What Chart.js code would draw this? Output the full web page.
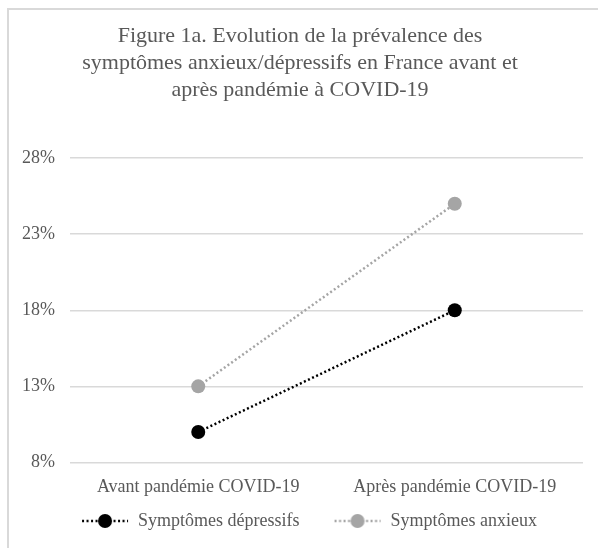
<!DOCTYPE html>
<html>
<head>
<meta charset="utf-8">
<script src="https://cdn.jsdelivr.net/npm/chart.js@4/dist/chart.umd.min.js"></script>
<style>
  html, body { margin: 0; padding: 0; background: #fff; overflow: hidden; }
  #frame {
    position: absolute; left: 7px; top: 8px;
    width: 600px; height: 560px;
    border-left: 2px solid #d9d9d9; border-top: 2px solid #d9d9d9;
  }
  #wrap { position: absolute; left: 0; top: 0; width: 589px; height: 538px; }
</style>
</head>
<body>
<div id="frame"><div id="wrap"><canvas id="chartCanvas"></canvas></div></div>
<script>
// categories and values (percent)
const categories = ['Avant pandémie COVID-19', 'Après pandémie COVID-19'];
const depressifs = [10, 18];
const anxieux = [13, 25];
const seriesNames = ['Symptômes dépressifs', 'Symptômes anxieux'];
const titleLines = [
    'Figure 1a. Evolution de la prévalence des',
    'symptômes anxieux/dépressifs en France avant et',
    'après pandémie à COVID-19'
];

const serif = "'Liberation Serif', 'Times New Roman', serif";
const textColor = '#595959';
const markerGap = 18; // empty space left of each legend marker

// small canvas used as legend marker: dotted line with a dot in the middle
function legendMarker(color) {
    const c = document.createElement('canvas');
    c.width = 48 + markerGap; c.height = 16;
    const g = c.getContext('2d');
    g.strokeStyle = color;
    g.lineWidth = 2.5;
    g.setLineDash([2, 2.5]);
    g.beginPath();
    g.moveTo(markerGap + 1, 8); g.lineTo(markerGap + 47, 8);
    g.stroke();
    g.fillStyle = color;
    g.beginPath();
    g.arc(markerGap + 24, 8, 7, 0, Math.PI * 2);
    g.fill();
    return c;
}

function renderChart() {
    const ctx = document.getElementById('chartCanvas').getContext('2d');
    const config = {
        type: 'line',
        data: {
            labels: categories,
            datasets: [
                {
                    label: seriesNames[0],
                    data: depressifs,
                    borderColor: '#000000',
                    backgroundColor: '#000000',
                    borderWidth: 2.5,
                    borderDash: [2, 2.5],
                    pointRadius: 7,
                    pointHoverRadius: 7,
                    pointBorderWidth: 0,
                    fill: false,
                },
                {
                    label: seriesNames[1],
                    data: anxieux,
                    borderColor: '#a5a5a5',
                    backgroundColor: '#a5a5a5',
                    borderWidth: 2.5,
                    borderDash: [2, 2.5],
                    pointRadius: 7,
                    pointHoverRadius: 7,
                    pointBorderWidth: 0,
                    fill: false,
                },
            ],
        },
        options: {
            responsive: true,
            maintainAspectRatio: false,
            animation: false,
            layout: { padding: { left: 8, right: 15, top: 7, bottom: 8 } },
            plugins: {
                title: {
                    display: true,
                    text: titleLines,
                    color: textColor,
                    font: { family: serif, size: 22, weight: 'normal', lineHeight: 1.23 },
                    padding: { top: 6, bottom: 54 },
                },
                legend: {
                    position: 'bottom',
                    labels: {
                        color: textColor,
                        font: { family: serif, size: 18 },
                        usePointStyle: true,
                        pointStyleWidth: 48 + markerGap,
                        boxHeight: 16,
                        padding: 16,
                        generateLabels: (chart) => chart.data.datasets.map((ds, i) => ({
                            text: ds.label,
                            pointStyle: legendMarker(ds.borderColor),
                            fontColor: textColor,
                            lineWidth: 0,
                            strokeStyle: 'transparent',
                            datasetIndex: i,
                        })),
                    },
                },
                tooltip: { enabled: false },
            },
            scales: {
                x: {
                    offset: true,
                    grid: { display: false, drawTicks: false },
                    border: { display: false },
                    ticks: { color: textColor, font: { family: serif, size: 18 }, padding: 14, maxRotation: 0 },
                    afterFit: (scale) => { scale.height -= 16; },
                },
                y: {
                    min: 8,
                    max: 28,
                    grid: { color: '#d9d9d9', lineWidth: 1.5, drawTicks: false },
                    border: { display: false },
                    ticks: {
                        stepSize: 5,
                        color: textColor,
                        font: { family: serif, size: 18 },
                        padding: 15,
                        callback: (v) => v + '%',
                    },
                    afterFit: (scale) => { scale.width -= 10; },
                },
            },
        },
    };
    new Chart(ctx, config);
}

document.addEventListener('DOMContentLoaded', renderChart);
</script>
</body>
</html>
